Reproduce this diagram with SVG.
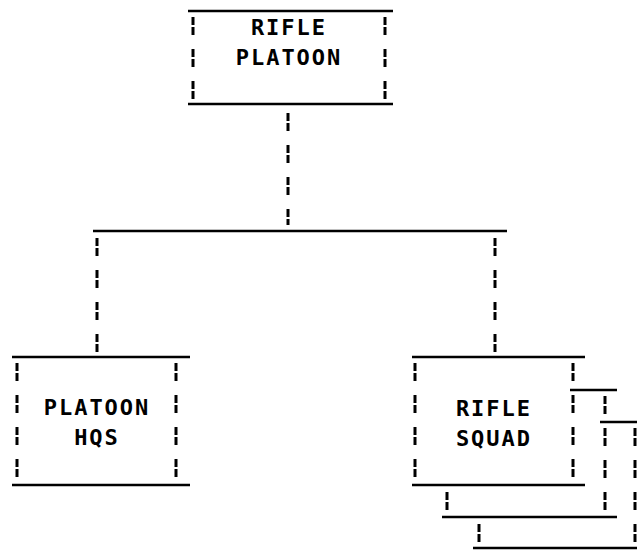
<svg xmlns="http://www.w3.org/2000/svg" width="637" height="550" viewBox="0 0 637 550">
<style>
.ln{stroke:#000;stroke-width:2.6;fill:none}
.ds{stroke:#000;stroke-width:3;fill:none;stroke-dasharray:8 2 8 14}
.t{font-family:"DejaVu Sans Mono","Liberation Mono",monospace;font-weight:bold;font-size:22px;letter-spacing:2px;text-anchor:middle;fill:#000}
</style>
<rect width="637" height="550" fill="#fff"/>
<g id="connectors">
<path class="ds" d="M288 113V225"/>
<path class="ln" d="M93 231H507"/>
<path class="ds" d="M97 238V352"/>
<path class="ds" d="M495 238V352"/>
</g>
<g id="rifle-platoon">
<path class="ln" d="M188 11H393M188 104H393"/>
<path class="ds" d="M193 17V99M385 17V99"/>
<text class="t" x="289" y="35">RIFLE</text>
<text class="t" x="289" y="65">PLATOON</text>
</g>
<g id="platoon-hqs">
<path class="ln" d="M12 357H190M12 485H190"/>
<path class="ds" d="M17 363V477M176 363V477"/>
<text class="t" x="97" y="415">PLATOON</text>
<text class="t" x="97" y="445">HQS</text>
</g>
<g id="rifle-squad">
<path class="ln" d="M412 357H585M412 485H585"/>
<path class="ds" d="M415 363V477M573 363V477"/>
<text class="t" x="494" y="416">RIFLE</text>
<text class="t" x="494" y="446">SQUAD</text>
<path class="ln" d="M570 390H617M442 517H617"/>
<path class="ds" d="M605 396V510M447 492V510"/>
<path class="ln" d="M600 422H637M473 548H637"/>
<path class="ds" d="M635 428V542M479 524V542"/>
</g>
</svg>
